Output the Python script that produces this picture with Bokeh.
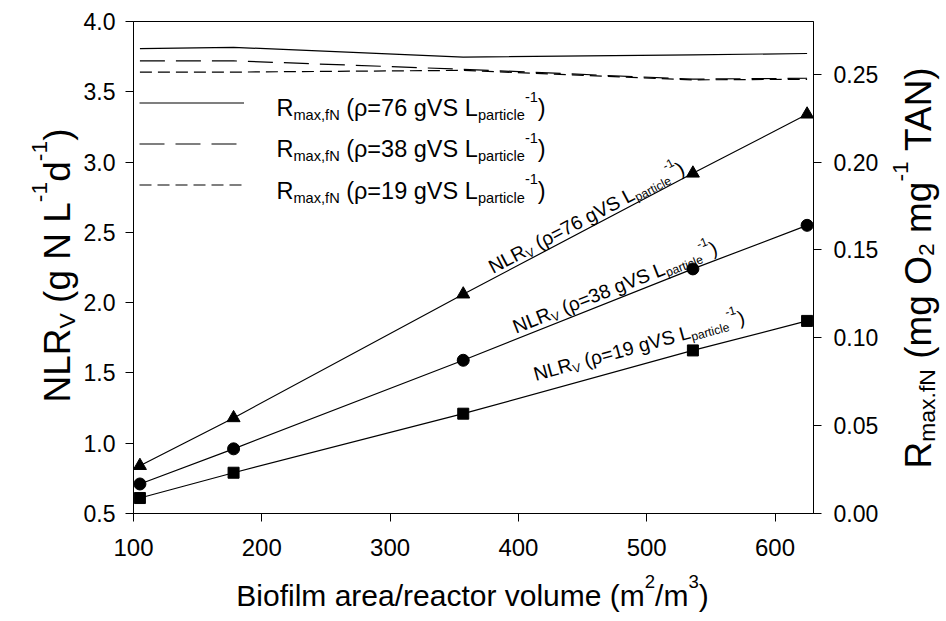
import math
from bokeh.plotting import figure
from bokeh.models import Range1d, LinearAxis, Label, Legend, LegendItem, FixedTicker
from bokeh.layouts import row, column
from bokeh.embed import file_html
from bokeh.resources import INLINE

# ---------------- data ----------------
area = [105, 178, 357, 536, 625]
nlr_76 = [0.84, 1.18, 2.06, 2.92, 3.34]
nlr_38 = [0.71, 0.96, 1.59, 2.24, 2.55]
nlr_19 = [0.61, 0.79, 1.21, 1.66, 1.87]
rmax_76 = [0.2646, 0.2653, 0.2597, 0.2610, 0.2618]
rmax_38 = [0.2576, 0.2576, 0.2528, 0.2472, 0.2477]
rmax_19 = [0.2512, 0.2512, 0.2522, 0.2468, 0.2471]
x_ticks = [100, 200, 300, 400, 500, 600]
y_ticks = [0.5, 1.0, 1.5, 2.0, 2.5, 3.0, 3.5, 4.0]
r_ticks = [0.0, 0.05, 0.10, 0.15, 0.20, 0.25]
densities = ["76", "38", "19"]

FONT = "Liberation Sans"
X0, X1 = 100, 630
Y0, Y1 = 0.5, 4.0
R0, R1 = 0.0, 0.28

LW = 80
FW, FH = 684, 492
BL, BR, BT, BB = 51, 66, 21, 56
MW, MH = BL + FW + BR, BT + FH + BB
RW = 944 - LW - MW
BH = 619 - MH

p = figure(width=MW, height=MH, output_backend="svg", toolbar_location=None,
           x_range=Range1d(X0, X1), y_range=Range1d(Y0, Y1),
           min_border_left=BL, min_border_right=BR, min_border_top=BT, min_border_bottom=BB,
           background_fill_color="white", border_fill_color="white")
p.extra_y_ranges = {"r": Range1d(R0, R1)}
p.grid.visible = False
p.outline_line_color = "black"
p.outline_line_width = 1

def style_axis(ax, size, standoff):
    ax.major_tick_out = 8
    ax.major_tick_in = 0
    ax.minor_tick_line_color = None
    ax.axis_line_color = "black"
    ax.major_tick_line_color = "black"
    ax.major_label_text_font = FONT
    ax.major_label_text_font_size = f"{size}px"
    ax.major_label_text_color = "black"
    ax.major_label_standoff = standoff
    ax.axis_label = None

p.xaxis.ticker = FixedTicker(ticks=x_ticks)
p.yaxis.ticker = FixedTicker(ticks=y_ticks)
p.yaxis.major_label_overrides = {t: f"{t:.1f}" for t in y_ticks}
style_axis(p.xaxis[0], 24, 17)
style_axis(p.yaxis[0], 23, 10)

rax = LinearAxis(y_range_name="r", ticker=FixedTicker(ticks=r_ticks))
rax.major_label_overrides = {t: f"{t:.2f}" for t in r_ticks}
style_axis(rax, 23, 12)
p.add_layout(rax, "right")

# ---------------- glyphs ----------------
lw = 1.2
r76 = p.line(area, rmax_76, y_range_name="r", line_color="black", line_width=lw)
r38 = p.line(area, rmax_38, y_range_name="r", line_color="black", line_width=lw, line_dash="25 11")
r19 = p.line(area, rmax_19, y_range_name="r", line_color="black", line_width=lw, line_dash="12 6")

p.line(area, nlr_76, line_color="black", line_width=lw)
p.scatter(area, nlr_76, marker="triangle", size=13, color="black")
p.line(area, nlr_38, line_color="black", line_width=lw)
p.scatter(area, nlr_38, marker="circle", size=12, color="black")
p.line(area, nlr_19, line_color="black", line_width=lw)
p.scatter(area, nlr_19, marker="square", size=11, color="black")

# ---------------- rich text helper ----------------
WID = {' ': 278, '(': 333, ')': 333, '=': 584, '-': 333, '/': 278, '.': 278, ',': 278, 'ρ': 577}
for c in "0123456789":
    WID[c] = 556
WID.update(dict(zip("ABCDEFGHIJKLMNOPQRSTUVWXYZ",
                    [667, 667, 722, 722, 667, 611, 778, 722, 278, 500, 667, 556, 833, 722, 778, 667, 778, 722, 667, 611, 722, 667, 944, 667, 667, 611])))
WID.update(dict(zip("abcdefghijklmnopqrstuvwxyz",
                    [556, 556, 500, 556, 556, 278, 556, 556, 222, 222, 500, 222, 833, 556, 556, 556, 556, 333, 500, 278, 556, 500, 722, 500, 500, 500])))

def tw(s, fs):
    return sum(WID.get(c, 556) for c in s) / 1000.0 * fs

def rich(fig, pieces, x, y, size, angle=0.0, align="left", ratio=0.62, sub=0.3, sup=0.48, units="screen"):
    total = sum(tw(t, size if k == "n" else size * ratio) for t, k in pieces)
    adv = 0.0 if align == "left" else (-total / 2 if align == "center" else -total)
    ca, sa = math.cos(angle), math.sin(angle)
    for t, k in pieces:
        fs = size if k == "n" else size * ratio
        lead = len(t) - len(t.lstrip(" "))
        adv += tw(" " * lead, fs)
        body = t.strip(" ")
        shift = 0.0 if k == "n" else (-sub * size if k == "sub" else sup * size)
        if body:
            xo = adv * ca - shift * sa
            yo = adv * sa + shift * ca
            fig.add_layout(Label(x=x, y=y, x_units=units, y_units=units, x_offset=xo, y_offset=yo,
                                 angle=angle, text=body, text_font=FONT, text_font_size=f"{fs:.1f}px",
                                 text_align="left", text_baseline="alphabetic", text_color="black"))
        adv += tw(t[lead:], fs)

def strip_fig(w, h, yr):
    f = figure(width=w, height=h, output_backend="svg", toolbar_location=None, title=None,
               x_range=Range1d(0, w), y_range=Range1d(0, yr), x_axis_type=None, y_axis_type=None,
               min_border_left=0, min_border_right=0, min_border_top=0, min_border_bottom=0,
               background_fill_color="white", border_fill_color="white")
    f.outline_line_color = None
    f.grid.visible = False
    return f

# ---------------- legend (line samples) ----------------
leg = Legend(items=[LegendItem(label="", renderers=[r76]),
                    LegendItem(label="", renderers=[r38]),
                    LegendItem(label="", renderers=[r19])],
             location=(6, FH - 60 - 3 * 41.2), glyph_width=105, glyph_height=41, spacing=0,
             padding=0, margin=0, label_standoff=0, label_width=0, label_height=41,
             background_fill_alpha=0, border_line_alpha=0, label_text_font_size="1px")
p.add_layout(leg, "center")

for i, d in enumerate(densities):
    rich(p, [("R", "n"), ("max,fN", "sub"), (f" (ρ={d} gVS L", "n"), ("particle", "sub"), ("-1", "sup"), (")", "n")],
         143, FH - (60 + 20.6 + i * 41.2 + 6), 23.5)

# ---------------- rotated series labels ----------------
sx = FW / (X1 - X0)
sy = FH / (Y1 - Y0)
for d, ys, frac, off in [("76", nlr_76, 0.13, 12), ("38", nlr_38, 0.23, 13), ("19", nlr_19, 0.32, 20)]:
    xa = area[2] + frac * (area[3] - area[2])
    ya = ys[2] + frac * (ys[3] - ys[2])
    ang = math.atan2((ys[3] - ys[2]) * sy, (area[3] - area[2]) * sx)
    px = (xa - X0) * sx - off * math.sin(ang)
    py = (ya - Y0) * sy + off * math.cos(ang)
    rich(p, [("NLR", "n"), ("V", "sub"), (f" (ρ={d} gVS L", "n"), ("particle", "sub"), ("-1", "sup"), (")", "n")],
         px, py, 19.5, angle=ang)

# ---------------- axis titles (side strips; their frames align with the main frame) ----------------
lf = strip_fig(LW, MH, FH)
rich(lf, [("NLR", "n"), ("V", "sub"), (" (g N L", "n"), ("-1", "sup"), ("d", "n"), ("-1", "sup"), (")", "n")],
     57, FH - (265 - BT), 37, angle=math.pi / 2, align="center", units="data", sub=0.25)

rf = strip_fig(RW, MH, FH)
rich(rf, [("R", "n"), ("max.fN", "sub"), (" (mg O", "n"), ("2", "sub"), (" mg", "n"), ("-1", "sup"), (" TAN)", "n")],
     918 - (LW + MW), FH - (266 - BT), 37, angle=math.pi / 2, align="center", units="data", sub=0.22)

bf = strip_fig(LW + MW + RW, BH, BH)
rich(bf, [("Biofilm area/reactor volume (m", "n"), ("2", "sup"), ("/m", "n"), ("3", "sup"), (")", "n")],
     472, 24, 30, align="center", units="data")

layout = column(row(lf, p, rf, spacing=0), bf, spacing=0)
open("out.html", "w").write(file_html(layout, INLINE))
